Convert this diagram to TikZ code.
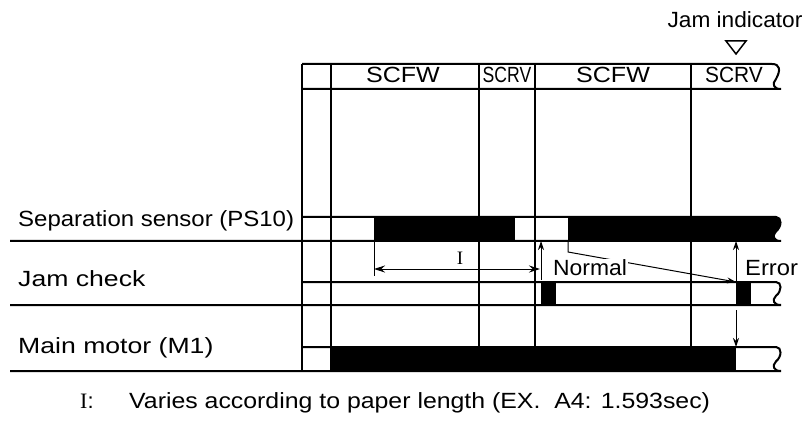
\documentclass[tikz,border=0pt]{standalone}
\usepackage{fontspec}
\setmainfont{Liberation Sans}
\newfontfamily\serifI{Liberation Serif}
\usetikzlibrary{arrows.meta, positioning, calc}
\tikzset{
  grid/.style     = {line width=2pt},
  dimline/.style  = {line width=1pt},
  flow/.style     = {-{Stealth[length=9pt,width=6pt]}, line width=1pt},
  dimflow/.style  = {{Stealth[length=11pt,width=7pt]}-{Stealth[length=11pt,width=7pt]}, line width=1pt},
  sig/.style      = {fill=black},
  rowlabel/.style = {anchor=base west, inner sep=0pt, font=\fontsize{22}{24}\selectfont},
  hdr/.style      = {anchor=base, inner sep=0pt, font=\fontsize{22}{24}\selectfont},
  note/.style     = {anchor=base west, inner sep=1pt, font=\fontsize{22}{24}\selectfont},
}
% widen text by #1
\newcommand{\sx}[2]{\scalebox{#1}[1]{#2}}
% torn right end of a row, from top y #1 to bottom y #2
\newcommand{\torn}[2]{(776,#1) .. controls (782,#1) and (782,{#1+0.4*(#2-#1)})
  .. (776,{#1+0.6*(#2-#1)}) .. controls (772,{#1+0.78*(#2-#1)}) and (773,#2) .. (781,#2)}

\begin{document}
\begin{tikzpicture}[x=1pt, y=-1pt]
    \useasboundingbox (0,0) rectangle (806,422);

    % --- signal bars --------------------------------------------------------
    \fill[sig] (374,217) rectangle (515,241);
    \fill[sig] (568,217) -- \torn{217}{241} -- (568,241) -- cycle;
    \fill[sig] (541,282) rectangle (556,305);
    \fill[sig] (736,282) rectangle (751,305);
    \fill[sig] (331,347) rectangle (736,371);

    % --- row outlines -------------------------------------------------------
    \draw[grid] (302,64) -- (772,64) .. controls (780,64) and (781,70)
      .. (776,{64+0.6*25}) .. controls (772,{64+0.78*25}) and (773,89) .. (781,89) -- (302,89);
    \draw[grid] (302,217) -- \torn{217}{241} -- (10,241);
    \draw[grid] (302,282) -- \torn{282}{305} -- (10,305);
    \draw[grid] (302,347) -- \torn{347}{371} -- (10,371);

    % --- time columns -------------------------------------------------------
    \foreach \x in {302,331}
      \draw[grid] (\x,64) -- (\x,371);
    \foreach \x in {479,535,691}
      \draw[grid] (\x,64) -- (\x,347);

    % --- header -------------------------------------------------------------
    \node[hdr] (fw1) at (403,83) {\sx{1.14}{SCFW}};
    \node[hdr] (rv1) at (507,83) {\sx{0.80}{SCRV}};
    \node[hdr] (fw2) at (613,83) {\sx{1.14}{SCFW}};
    \node[hdr] (rv2) at (734,83) {\sx{0.95}{SCRV}};
    \node[hdr] (jamind) at (735,28) {\sx{1.03}{Jam indicator}};
    \draw[line width=1.5pt] (726,41) -- (746,41) -- (736,54) -- cycle;

    % --- row labels ---------------------------------------------------------
    \node[rowlabel] (sep) at (18,227) {\sx{1.09}{Separation sensor (PS10)}};
    \node[rowlabel] (jam) at (18,286) {\sx{1.21}{Jam check}};
    \node[rowlabel] (mtr) at (18,353) {\sx{1.21}{Main motor (M1)}};

    % --- timing marks -------------------------------------------------------
    \coordinate (tickT) at (374,241);
    \coordinate (tickB) at (374,276);
    \coordinate (dimL)  at (374,269);
    \coordinate (dimR)  at (540,269);
    \coordinate (nrmB)  at (541,280);
    \coordinate (nrmT)  at (541,241);
    \coordinate (edge)  at (568,241);
    \coordinate (edgeB) at (568,252);
    \coordinate (errB)  at (736,282);
    \coordinate (errT)  at (736,241);
    \coordinate (mtrT)  at (736,310);
    \coordinate (mtrB)  at (736,347);

    \draw[dimline] (tickT) -- (tickB);
    \draw[dimflow] (dimL) -- (dimR);
    \node[anchor=base, inner sep=0pt, font=\serifI\fontsize{19}{21}\selectfont] (lblI)
      at (460,265) {I};
    \draw[flow] (nrmB) -- (nrmT);
    \draw[flow] (edge) -- (edgeB) -- (errB);
    \node[note, fill=white] (normal) at (552,276) {\sx{1.04}{Normal}};
    \draw[flow] (errB) -- (errT);
    \node[note] (error) at (744,276) {\sx{1.08}{Error}};
    \draw[flow] (mtrT) -- (mtrB);

    % --- footnote -----------------------------------------------------------
    \node[anchor=base west, inner sep=0pt, font=\fontsize{22}{24}\selectfont] (noteI)
      at (80,408) {{\serifI I}:};
    \node[anchor=base west, inner sep=0pt, font=\fontsize{22}{24}\selectfont] (notetxt)
      at (129,408) {\sx{1.13}{Varies according to paper length (EX.\ \ A4: 1.593sec)}};
  \end{tikzpicture}
\end{document}
